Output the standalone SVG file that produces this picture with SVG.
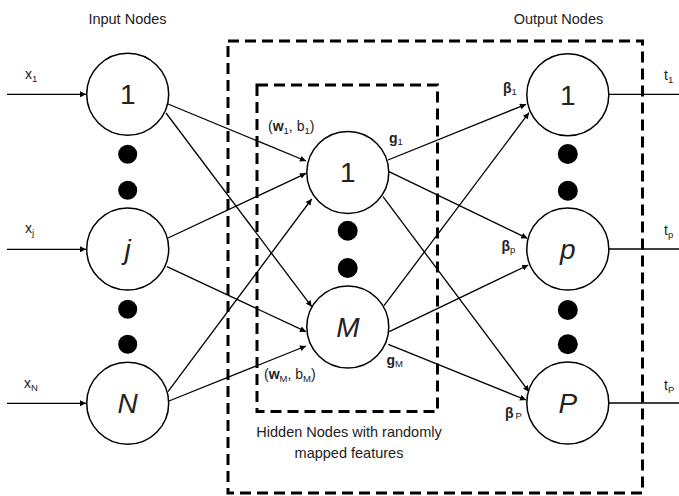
<svg xmlns="http://www.w3.org/2000/svg" width="679" height="496" viewBox="0 0 679 496">
  <defs>
    <marker id="arrow" viewBox="0 0 10 10" refX="10" refY="5" markerWidth="7" markerHeight="6" markerUnits="userSpaceOnUse" orient="auto">
      <path d="M0,0 L10,5 L0,10 z" fill="#000"/>
    </marker>
    <style>
      .node { fill: #fff; stroke: #000; stroke-width: 1.5; }
      .dot { fill: #000; }
      .box { fill: none; stroke: #000; stroke-width: 3; stroke-dasharray: 11 6; }
      .edge { stroke: #000; stroke-width: 1.3; fill: none; }
      .arr { marker-end: url(#arrow); }
      .lbl { font-family: "Liberation Sans", Arial, sans-serif; fill: #222; }
      .title { font-size: 14.5px; text-anchor: middle; }
      .num { font-size: 28px; text-anchor: middle; }
      .it { font-style: italic; }
      .sym { font-size: 14px; }
      .b { font-weight: bold; }
      .sub { font-size: 9.5px; }
    </style>
  </defs>

  <rect id="background" width="679" height="496" fill="#fff"/>

  <!-- dashed groupings -->
  <rect class="box" x="228" y="41" width="414.5" height="452"/>
  <rect class="box" x="257" y="85" width="180.5" height="326.5"/>

  <!-- connectors -->
  <g id="connectors">
    <line class="edge arr" x1="7" y1="94.3" x2="86" y2="94.3"/>
    <line class="edge arr" x1="7" y1="249.3" x2="86" y2="249.3"/>
    <line class="edge arr" x1="7" y1="403.3" x2="86" y2="403.3"/>

    <line class="edge arr" x1="168" y1="104" x2="306" y2="161"/>
    <line class="edge arr" x1="166" y1="113" x2="311.7" y2="306.7"/>
    <line class="edge arr" x1="168" y1="238" x2="306" y2="173.3"/>
    <line class="edge arr" x1="167" y1="266.7" x2="306" y2="331.7"/>
    <line class="edge arr" x1="168" y1="391.7" x2="311.7" y2="199"/>
    <line class="edge arr" x1="169" y1="401" x2="306" y2="346"/>

    <line class="edge arr" x1="388" y1="160" x2="526" y2="104.3"/>
    <line class="edge arr" x1="389" y1="171.7" x2="527.3" y2="238.3"/>
    <line class="edge arr" x1="383" y1="196.7" x2="529" y2="391.7"/>
    <line class="edge arr" x1="384" y1="305.7" x2="529" y2="112.7"/>
    <line class="edge arr" x1="389.3" y1="331.7" x2="528.3" y2="265"/>
    <line class="edge arr" x1="388.3" y1="344.3" x2="526" y2="400"/>

    <line class="edge" x1="609" y1="94.3" x2="679" y2="94.3"/>
    <line class="edge" x1="609" y1="249" x2="679" y2="249"/>
    <line class="edge" x1="609" y1="403" x2="679" y2="403"/>
  </g>

  <!-- input layer -->
  <g id="input-1">
    <circle class="node" cx="127.7" cy="94.3" r="41"/>
    <text class="lbl num" x="127.7" y="104">1</text>
  </g>
  <g id="input-j">
    <circle class="node" cx="127.7" cy="249" r="41"/>
    <text class="lbl num it" x="127.7" y="259">j</text>
  </g>
  <g id="input-N">
    <circle class="node" cx="127.7" cy="403.3" r="41"/>
    <text class="lbl num it" x="127.7" y="413">N</text>
  </g>
  <g id="input-dots">
    <circle class="dot" cx="127.7" cy="154.3" r="9.5"/>
    <circle class="dot" cx="127.7" cy="190.3" r="9.5"/>
    <circle class="dot" cx="127.7" cy="309.3" r="9.5"/>
    <circle class="dot" cx="127.7" cy="344.3" r="9.5"/>
  </g>

  <!-- hidden layer -->
  <g id="hidden-1">
    <circle class="node" cx="347.8" cy="172.5" r="41"/>
    <text class="lbl num" x="347.8" y="182">1</text>
  </g>
  <g id="hidden-M">
    <circle class="node" cx="347.8" cy="327" r="41"/>
    <text class="lbl num it" x="347.8" y="337">M</text>
  </g>
  <g id="hidden-dots">
    <circle class="dot" cx="347.7" cy="230.7" r="10"/>
    <circle class="dot" cx="347.7" cy="268" r="10"/>
  </g>

  <!-- output layer -->
  <g id="output-1">
    <circle class="node" cx="567.8" cy="94.7" r="41"/>
    <text class="lbl num" x="567.8" y="104.5">1</text>
  </g>
  <g id="output-p">
    <circle class="node" cx="567.8" cy="249" r="41"/>
    <text class="lbl num it" x="567.8" y="259">p</text>
  </g>
  <g id="output-P">
    <circle class="node" cx="567.8" cy="403" r="41"/>
    <text class="lbl num it" x="567.8" y="413">P</text>
  </g>
  <g id="output-dots">
    <circle class="dot" cx="567.8" cy="154" r="10"/>
    <circle class="dot" cx="567.8" cy="190.7" r="10"/>
    <circle class="dot" cx="567.8" cy="310" r="10"/>
    <circle class="dot" cx="567.8" cy="344.3" r="10"/>
  </g>

  <!-- labels -->
  <g id="labels">
    <text class="lbl title" x="127.5" y="24">Input Nodes</text>
    <text class="lbl title" x="558.5" y="24">Output Nodes</text>
    <text class="lbl title" x="349" y="436.7">Hidden Nodes with randomly</text>
    <text class="lbl title" x="349" y="458">mapped features</text>

    <text class="lbl sym" x="25" y="79">x<tspan class="sub" dy="3">1</tspan></text>
    <text class="lbl sym" x="25" y="233">x<tspan class="sub" dy="3">j</tspan></text>
    <text class="lbl sym" x="24" y="388">x<tspan class="sub" dy="3">N</tspan></text>

    <text class="lbl sym" x="268" y="131">(<tspan class="b">w</tspan><tspan class="sub" dy="3">1</tspan><tspan dy="-3">, b</tspan><tspan class="sub" dy="3">1</tspan><tspan dy="-3">)</tspan></text>
    <text class="lbl sym" x="264" y="379">(<tspan class="b">w</tspan><tspan class="sub" dy="3">M</tspan><tspan dy="-3">, b</tspan><tspan class="sub" dy="3">M</tspan><tspan dy="-3">)</tspan></text>

    <text class="lbl sym b" x="389" y="143">g<tspan class="sub" font-weight="normal" dy="2">1</tspan></text>
    <text class="lbl sym b" x="386.5" y="365">g<tspan class="sub" font-weight="normal" dy="2">M</tspan></text>

    <text class="lbl sym b" x="503" y="93">β<tspan class="sub" font-weight="normal" dy="2">1</tspan></text>
    <text class="lbl sym b" x="501.5" y="251">β<tspan class="sub" font-weight="normal" dy="2">p</tspan></text>
    <text class="lbl sym b" x="505" y="418">β<tspan class="sub" font-weight="normal" dx="2" dy="1">P</tspan></text>

    <text class="lbl sym" x="664" y="80">t<tspan class="sub" dy="3">1</tspan></text>
    <text class="lbl sym" x="664" y="235">t<tspan class="sub" dy="3">p</tspan></text>
    <text class="lbl sym" x="664" y="390">t<tspan class="sub" dy="3">P</tspan></text>
  </g>
</svg>
